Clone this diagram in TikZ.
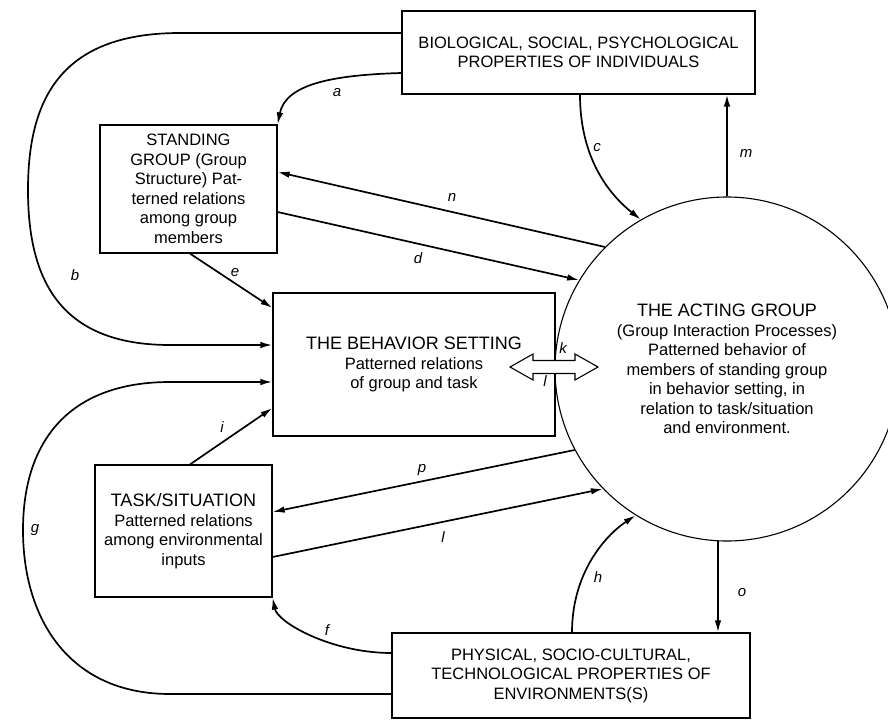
\documentclass[tikz,border=0pt]{standalone}
\usepackage{fontspec}
\setmainfont{Liberation Sans}
\usetikzlibrary{arrows.meta}
\newcommand\bodyfont{\fontsize{16.5}{19.5}\selectfont}
\newcommand\headfont{\fontsize{18}{19.5}\selectfont}
\newcommand\lblfont{\fontsize{15}{15}\selectfont\itshape}
\tikzset{
 box/.style={draw, line width=1.2pt, rectangle, align=center, inner sep=0pt, font=\bodyfont},
 conn/.style={line width=1.7pt, -{Latex[length=12pt,width=6.5pt]}},
 lbl/.style={font=\lblfont, inner sep=0pt},
 hollow/.style={line width=1.1pt, fill=white},
}
\begin{document}
\begin{tikzpicture}[x=1pt,y=-1pt]
\useasboundingbox (0,0) rectangle (888,722);
\clip (0,0) rectangle (888,722);
\fill[white] (0,0) rectangle (888,722);

\node[box, minimum width=353pt, minimum height=83pt] (bio) at (578.5,52.5)
  {BIOLOGICAL, SOCIAL, PSYCHOLOGICAL\\PROPERTIES OF INDIVIDUALS};
\node[box, minimum width=177pt, minimum height=128pt] (stand) at (188.5,189)
  {STANDING\\GROUP (Group\\Structure) Pat-\\terned relations\\among group\\members};
\node[box, minimum width=282pt, minimum height=143pt] (beh) at (414,364.5)
  {{\headfont THE BEHAVIOR SETTING}\\Patterned relations\\of group and task};
\node[box, minimum width=177pt, minimum height=132pt] (task) at (183.5,531)
  {{\headfont TASK/SITUATION}\\Patterned relations\\among environmental\\inputs};
\node[box, minimum width=358pt, minimum height=85pt] (phys) at (571,675.5)
  {PHYSICAL, SOCIO-CULTURAL,\\TECHNOLOGICAL PROPERTIES OF\\ENVIRONMENTS(S)};
\node[circle, draw, line width=1.1pt, minimum size=344pt, inner sep=0pt, align=center, font=\bodyfont] (ag) at (727,369)
  {{\headfont THE ACTING GROUP}\\(Group Interaction Processes)\\Patterned behavior of\\members of standing group\\in behavior setting, in\\relation to task/situation\\and environment.};

% connectors
\draw[conn] ([yshift=-20.5pt]bio.west) .. controls +(-70,2) and +(8,-40) .. (stand.north east);
\draw[conn] ([yshift=19.5pt]bio.west) -- (180,33) .. controls (60,33) and (28,100) .. (28,190)
   .. controls (28,280) and (60,345) .. (170,345) -- ([yshift=19.5pt]beh.west);
\draw[conn] ([yshift=-18.5pt]phys.west) -- (170,694) .. controls (70,694) and (23,620) .. (23,530)
   .. controls (23,440) and (70,382) .. (170,382) -- ([yshift=-17.5pt]beh.west);
\draw[conn] ([xshift=1.5pt]bio.south) .. controls +(0,60) and +(-35,-28) .. (ag.120.6);
\draw[conn] (ag.north) -- (ag.north |- bio.south);
\draw[conn] (ag.135.7) -- ([yshift=17pt]stand.east);
\draw[conn] ([yshift=-23pt]stand.east) -- (ag.149.7);
\draw[conn] ([xshift=1.5pt]stand.south) -- ([yshift=56.5pt]beh.west);
\draw[conn] ([xshift=6.5pt]task.north) -- ([yshift=-43.5pt]beh.west);
\draw[conn] (ag.208.3) -- ([yshift=19pt]task.east);
\draw[conn] ([yshift=-26pt]task.east) -- (ag.224.8);
\draw[conn] ([xshift=1pt]phys.north) .. controls +(0,-60) and +(-30,20) .. (ag.238.7);
\draw[conn] (ag.267.5) -- (ag.267.5 |- phys.north);
\draw[conn] ([yshift=22.5pt]phys.west) .. controls +(-60,0) and +(5,25) .. (task.south east);

% hollow double arrow k / l
\draw[hollow] (510,367) -- (533,354) -- (533,360.5) -- (575,360.5) -- (575,354) -- (598,367)
   -- (575,380) -- (575,373.5) -- (533,373.5) -- (533,380) -- cycle;

% labels
\node[lbl] (la) at (337,93) {a};
\node[lbl] (lb) at (75,275) {b};
\node[lbl] (lc) at (597,148) {c};
\node[lbl] (ld) at (418,258) {d};
\node[lbl] (le) at (235,273) {e};
\node[lbl] (lf) at (327,630) {f};
\node[lbl] (lg) at (35,530) {g};
\node[lbl] (lh) at (598,577) {h};
\node[lbl] (li) at (222,427) {i};
\node[lbl] (lk) at (563,348) {k};
\node[lbl] (ll1) at (545,381) {l};
\node[lbl] (ll2) at (443,537) {l};
\node[lbl] (lm) at (746,153) {m};
\node[lbl] (ln) at (452,197) {n};
\node[lbl] (lo) at (742,593) {o};
\node[lbl] (lp) at (422,470) {p};
\end{tikzpicture}
\end{document}
